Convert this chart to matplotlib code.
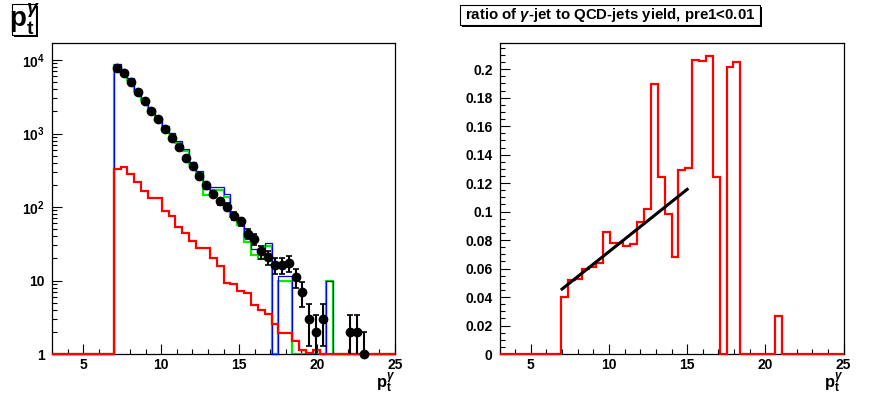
import numpy as np
import matplotlib
matplotlib.use('Agg')
import matplotlib.pyplot as plt
from matplotlib.ticker import FixedLocator, FixedFormatter, MultipleLocator, NullFormatter, FormatStrFormatter
from matplotlib.patches import Rectangle

plt.rcParams['font.family'] = ['Liberation Sans', 'DejaVu Sans']
plt.rcParams['font.weight'] = 'bold'
plt.rcParams['mathtext.fontset'] = 'custom'
plt.rcParams['mathtext.rm'] = 'Liberation Sans:bold'
plt.rcParams['mathtext.bf'] = 'Liberation Sans:bold'
plt.rcParams['mathtext.it'] = 'Liberation Sans:italic'

# ---------------- data ----------------
x_min, x_max, n_bins = 3.0, 25.0, 50
first_bin = 9  # first filled bin starts at pt = 6.96

blue_counts = [8730, 7300, 5620, 3990, 3000, 2190, 1650, 1256, 1030, 794, 622, 414, 312,
               175, 185, 185, 151, 80.7, 65.4, 39.6, 26.9, 26.9, 32.5, 0, 11.4, 11.4,
               1.54, 1.12, 1.04, 1.12, 0, 9.7]
green_counts = [8600, 6920, 5330, 3775, 2845, 2013, 1517, 1191, 998, 743, 578, 389, 289,
                148, 168, 168, 139, 72.6, 57.7, 33.0, 22.5, 19.6, 29.2, 0, 9.7, 9.7,
                0, 0, 0, 0, 0, 9.7]
red_counts = [333, 349, 278, 216, 164, 132, 132, 89.6, 74.8, 54.2, 43.9, 34.9, 28.0,
              27.4, 20.0, 15.9, 9.3, 9.1, 7.2, 6.7, 4.6, 4.0, 3.55, 2.6, 1.95, 1.95,
              1.5, 1.12, 1.04, 1.12, 0]
data_counts = [7850, 6580, 5060, 3620, 2755, 2012, 1600, 1170, 871, 649, 469, 357, 263,
               201, 151, 119, 101.6, 75.8, 64, 43, 36.8, 24.9, 20.6, 16.4, 16.4, 17.3,
               11.2, 7.0, 3, 2, 3, 0, 0, 0, 2, 2, 1]
ratio_values = [0.040, 0.052, 0.053, 0.060, 0.061, 0.064, 0.0858, 0.078, 0.078, 0.0757,
                0.077, 0.0928, 0.1015, 0.1896, 0.124, 0.0982, 0.068, 0.129, 0.1309,
                0.2067, 0.2055, 0.2095, 0.124, 0, 0.2013, 0.2048, 0, 0, 0, 0, 0, 0.0266]
fit_x = [7.0, 15.0]
fit_y = [0.0456, 0.1156]

left_ytick_values = [1, 10, 100, 1000, 10000]
left_ytick_labels = ['1', '10', r'$10^{2}$', r'$10^{3}$', r'$10^{4}$']
left_title = r'$\mathrm{p}_{\mathrm{t}}^{\gamma}$'
right_title = r'ratio of $\gamma$-jet to QCD-jets yield, pre1<0.01'
x_label = r'$\mathrm{p}_{\mathrm{t}}^{\gamma}$'

# ---------------- helpers ----------------
edges = np.linspace(x_min, x_max, n_bins + 1)
centers = 0.5 * (edges[:-1] + edges[1:])


def full(vals):
    out = np.zeros(n_bins)
    out[first_bin:first_bin + len(vals)] = vals
    return out


W, H = 896, 398
fig = plt.figure(figsize=(W / 100, H / 100), dpi=100)


def fax(x0, y0, x1, y1):
    return fig.add_axes([x0 / W, 1 - y1 / H, (x1 - x0) / W, (y1 - y0) / H])


def style_axes(ax):
    ax.tick_params(which='both', direction='in', top=False, right=False,
                   labelsize=10, width=0.8)
    ax.tick_params(which='major', length=7.2)
    ax.tick_params(which='minor', length=3.6)
    ax.tick_params(axis='x', pad=3)
    ax.tick_params(axis='y', pad=5)
    for s in ax.spines.values():
        s.set_linewidth(0.9)
    ax.xaxis.set_major_locator(MultipleLocator(5))
    ax.xaxis.set_minor_locator(MultipleLocator(1))
    ax.set_xlim(x_min, x_max)
    ax.text(1.0, -0.055, x_label, transform=ax.transAxes, ha='right', va='top',
            fontsize=12)


def title_box(x0, y0, x1, y1, text, fs):
    sh = Rectangle(((x0 + 2) / W, 1 - (y1 + 2) / H), (x1 - x0) / W, (y1 - y0) / H,
                   transform=fig.transFigure, fc='black', ec='black', lw=0)
    bx = Rectangle((x0 / W, 1 - y1 / H), (x1 - x0) / W, (y1 - y0) / H,
                   transform=fig.transFigure, fc='white', ec='black', lw=0.8)
    fig.patches.extend([sh, bx])
    fig.text((x0 + x1) / 2 / W, 1 - (y0 + y1) / 2 / H, text, ha='center',
             va='center', fontsize=fs)


# ---------------- left panel ----------------
axL = fax(52, 43, 395, 354)
ymax_left = 10 ** 4.232
green_full = np.clip(full(green_counts), 1, None)
blue_full = np.clip(full(blue_counts), 1, None)
red_full = np.clip(full(red_counts), 1, None)
axL.stairs(green_full, edges, baseline=None, color='#00ee00', lw=1.6, clip_on=False, zorder=2)
axL.stairs(blue_full, edges, baseline=None, color='#0000ff', lw=0.9, clip_on=False, zorder=3)
axL.stairs(red_full, edges, baseline=None, color='#ff0000', lw=1.6, clip_on=False, zorder=4)

dc = full(data_counts)
mask = dc > 0
err = np.sqrt(dc[mask])
axL.errorbar(centers[mask], dc[mask], yerr=err, fmt='none', ecolor='black',
             elinewidth=1.5, capsize=2.5, capthick=1.2, zorder=5)
axL.plot(centers[mask], dc[mask], 'o', color='black', ms=6, clip_on=False, zorder=6)

axL.set_yscale('log')
axL.set_ylim(1, ymax_left)
axL.yaxis.set_major_locator(FixedLocator(left_ytick_values))
axL.yaxis.set_major_formatter(FixedFormatter(left_ytick_labels))
minor = [m * 10 ** d for d in range(0, 5) for m in range(2, 10) if m * 10 ** d < ymax_left]
axL.yaxis.set_minor_locator(FixedLocator(minor))
axL.yaxis.set_minor_formatter(NullFormatter())
style_axes(axL)

# ---------------- right panel ----------------
axR = fax(499.5, 43, 843.5, 354)
axR.stairs(full(ratio_values), edges, baseline=None, color='#ff0000', lw=1.6,
           clip_on=False, zorder=3)
axR.plot(fit_x, fit_y, color='black', lw=2.2, zorder=4)
axR.set_ylim(0, 0.2184)
axR.yaxis.set_major_locator(MultipleLocator(0.02))
axR.yaxis.set_minor_locator(MultipleLocator(0.005))
axR.yaxis.set_major_formatter(FormatStrFormatter('%g'))
style_axes(axR)

# ---------------- titles ----------------
title_box(12, 4, 36, 35, left_title, 20)
title_box(460, 5, 760, 25, right_title, 10.8)

fig.savefig('out.png', dpi=100)
